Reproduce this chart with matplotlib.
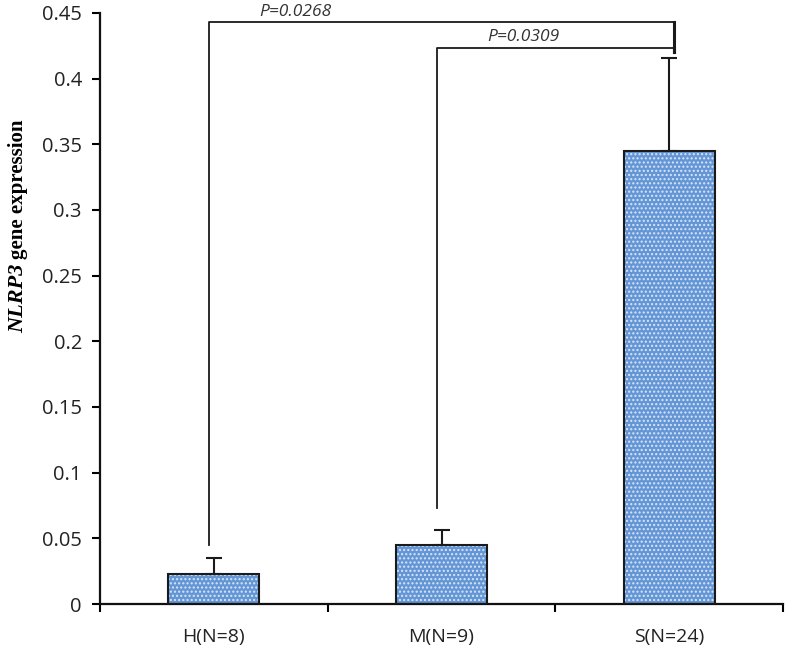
import matplotlib
matplotlib.use("Agg")
import matplotlib.pyplot as plt
import numpy as np

groups = ["H(N=8)", "M(N=9)", "S(N=24)"]
means = [0.023, 0.045, 0.345]
errors = [0.012, 0.011, 0.071]

# significance brackets: (left group, right group, bar height, left drop, label, label x)
brackets = [(0, 2, 0.443, 0.045, "P=0.0268", 0.36),
            (1, 2, 0.4235, 0.073, "P=0.0309", 1.36)]

plt.rcParams['font.family'] = ['Open Sans', 'DejaVu Sans']

fig = plt.figure(figsize=(7.92, 6.52), dpi=100)
ax = fig.add_axes([100/792, 48/652, 683/792, 591/652])

x = np.arange(len(groups))
blue = '#6496d6'
ax.bar(x, means, width=0.40, color=blue, edgecolor='none', zorder=2)
ax.bar(x, means, width=0.40, color='none', edgecolor='#d8e6f8', hatch='....',
       linewidth=0, zorder=3)
ax.bar(x, means, width=0.40, color='none', edgecolor='#1a1a1a', linewidth=1.5, zorder=4)
ax.errorbar(x, means, yerr=[np.zeros(3), errors], fmt='none', ecolor='#1a1a1a',
            elinewidth=1.5, capsize=6, capthick=1.5, zorder=5)

for i, j, h, drop, label, lx in brackets:
    xl = i - 0.02
    xr = j + 0.02
    ax.plot([xl, xl, xr], [drop, h, h], color='#1a1a1a', lw=1.3, zorder=6)
    ax.plot([xr, xr], [h, 0.42], color='#1a1a1a', lw=2.2, zorder=6)
    ax.text(lx, h + 0.002, label, style='italic',
            ha='center', va='bottom', fontsize=12.5, color='#333333')

ax.set_xlim(-0.5, 2.5)
ax.set_ylim(0, 0.45)
ax.set_yticks(np.arange(0, 0.451, 0.05))
ax.set_yticklabels(['0', '0.05', '0.1', '0.15', '0.2', '0.25', '0.3', '0.35', '0.4', '0.45'])
ax.set_xticks(x)
ax.set_xticklabels(groups)
ax.set_xticks([-0.5, 0.5, 1.5, 2.5], minor=True)
ax.tick_params(axis='x', which='major', length=0, pad=17, labelsize=14, labelcolor='#222222')
ax.tick_params(axis='x', which='minor', length=6, width=1.5, direction='out')
ax.tick_params(axis='y', length=6, width=1.5, direction='out', labelsize=14.5,
               pad=7, labelcolor='#222222')
for s in ['top', 'right']:
    ax.spines[s].set_visible(False)
for s in ['left', 'bottom']:
    ax.spines[s].set_linewidth(1.6)
    ax.spines[s].set_color('#111111')

fig.text(18/792, 1 - 333/652, 'NLRP3', rotation=90, ha='center', va='bottom',
         family='Liberation Serif', style='italic', weight='bold', fontsize=16)
fig.text(18/792, 1 - 259/652, 'gene expression', rotation=90, ha='center', va='bottom',
         family='Liberation Serif', weight='bold', fontsize=15)

fig.savefig('out.png', dpi=100)
